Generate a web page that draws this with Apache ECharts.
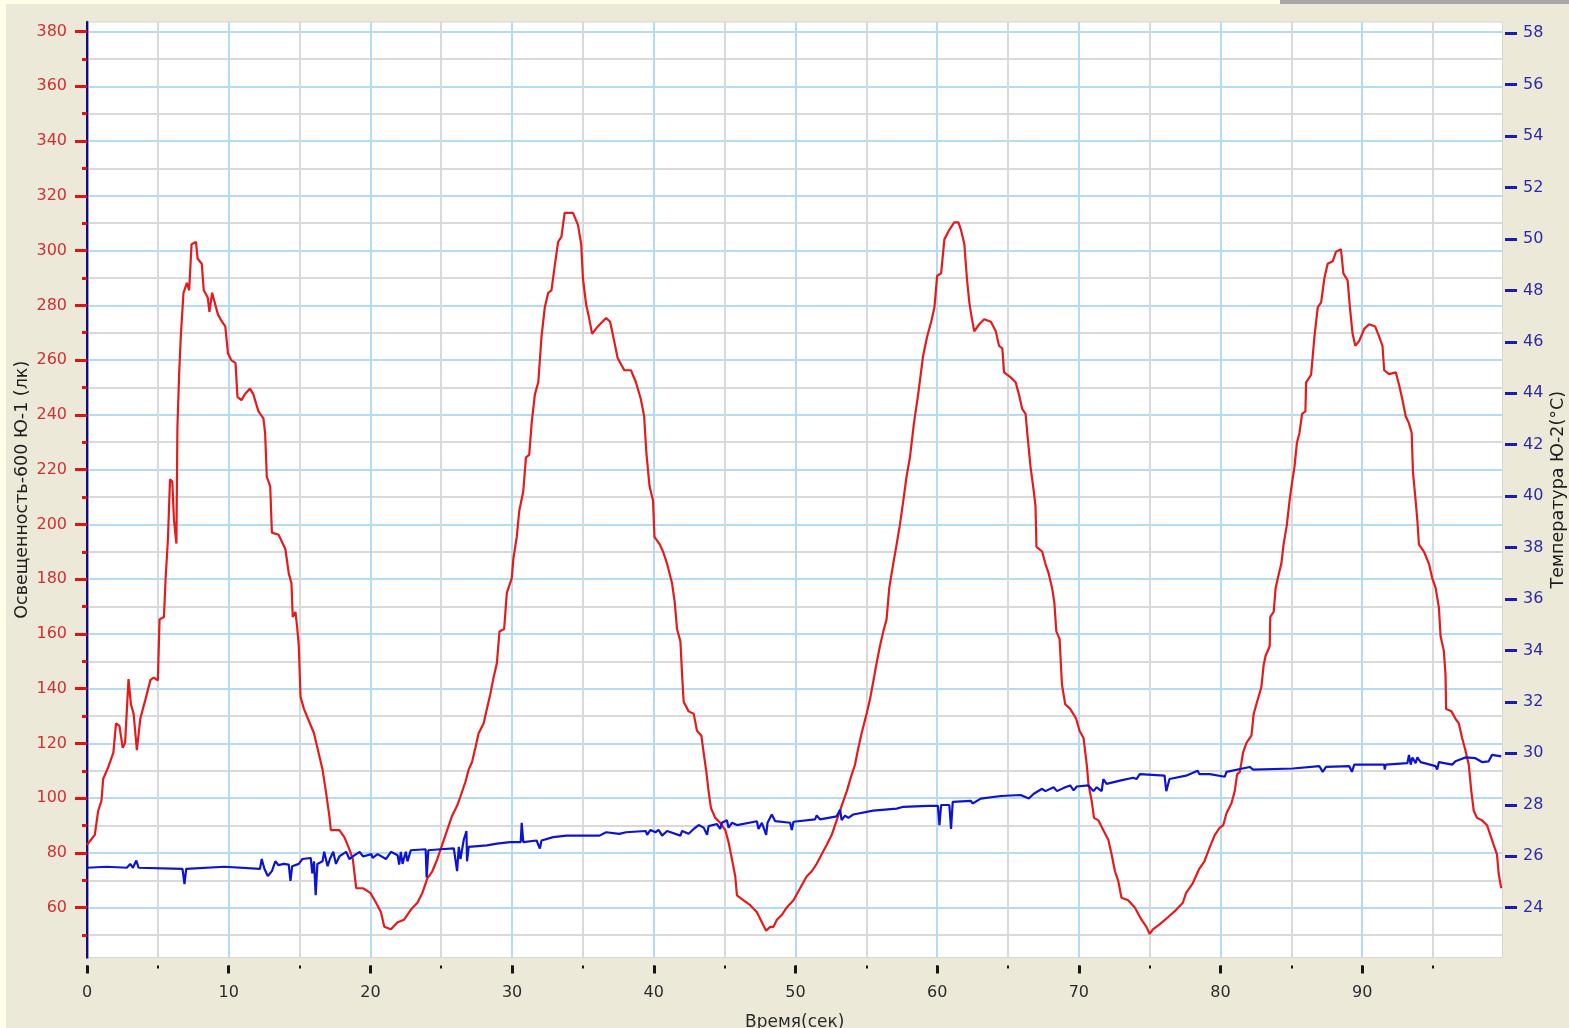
<!DOCTYPE html>
<html>
<head>
<meta charset="utf-8">
<title>Освещенность и температура</title>
<script src="https://cdn.jsdelivr.net/npm/echarts@6/dist/echarts.min.js"></script>
<style>
  html, body { margin: 0; padding: 0; width: 1569px; height: 1028px; overflow: hidden; background: #FFFFE8; }
  #frame { position: absolute; left: 6px; top: 4px; width: 1563px; height: 1024px; background: #ECE9D8; }
  #strip { position: absolute; left: 1280px; top: 0; width: 289px; height: 4px; background: #A8A8A8; }
  #chart { position: absolute; left: 0; top: 0; width: 1569px; height: 1028px; }
</style>
</head>
<body>
<div id="frame"></div>
<div id="strip"></div>
<div id="chart"></div>
<script>
// Tick values of the three axes
const xMajorTicks = [0, 10, 20, 30, 40, 50, 60, 70, 80, 90];
const xMinorTicks = [5, 15, 25, 35, 45, 55, 65, 75, 85, 95];
const luxMajorTicks = [60, 80, 100, 120, 140, 160, 180, 200, 220, 240, 260, 280, 300, 320, 340, 360, 380];
const luxMinorTicks = [50, 70, 90, 110, 130, 150, 170, 190, 210, 230, 250, 270, 290, 310, 330, 350, 370];
const tempTicks = [24, 26, 28, 30, 32, 34, 36, 38, 40, 42, 44, 46, 48, 50, 52, 54, 56, 58];

// Illuminance, lux: [time s, value]
const illuminanceSamples = [
  [0, 83], [0.55, 86.6], [0.79, 95.4], [1.02, 99], [1.14, 107], [1.5, 111.3], [1.86, 116.6], [2.05, 127.3],
  [2.29, 126.4], [2.52, 118.4], [2.69, 120.2], [2.93, 143.5], [3.1, 134.3], [3.29, 130.8], [3.52, 117.5],
  [3.76, 129], [4.12, 136], [4.48, 143.2], [4.71, 144], [5.0, 143], [5.12, 165.3], [5.43, 166.2],
  [5.55, 180.4], [5.71, 194.4], [5.86, 216.5], [6.02, 215.6], [6.14, 201.5], [6.31, 193], [6.38, 235.1],
  [6.5, 254.6], [6.62, 268.7], [6.81, 284.6], [7.05, 288.2], [7.21, 285.5], [7.38, 302.3], [7.69, 303.2],
  [7.81, 297], [8.1, 295.2], [8.24, 285.5], [8.52, 282.9], [8.64, 277.6], [8.83, 284.6], [9.24, 276.7],
  [9.48, 274.4], [9.76, 272.3], [9.95, 262.5], [10.19, 259.9], [10.48, 259], [10.62, 246.6], [10.9, 245.4],
  [11.14, 247.5], [11.5, 249.6], [11.74, 247.5], [12.1, 241.3], [12.45, 238.7], [12.57, 233.4], [12.69, 217.4],
  [12.93, 213.9], [13.05, 197], [13.52, 196.2], [14.0, 191], [14.24, 182.1], [14.43, 178.5], [14.52, 166.2],
  [14.71, 168], [14.83, 162.6], [14.95, 155.5], [15.07, 137], [15.31, 132.6], [15.67, 128.1], [16.02, 123.7],
  [16.26, 118.4], [16.62, 110.5], [16.86, 102.5], [17.1, 93.6], [17.21, 88.3], [17.81, 88.3], [18.17, 85.7],
  [18.52, 81.3], [18.76, 77.7], [19.0, 67.1], [19.48, 67.1], [20.0, 65.4], [20.4, 61.8], [20.75, 58.3],
  [20.98, 53], [21.45, 52.1], [21.92, 54.7], [22.38, 55.6], [22.85, 59.2], [23.32, 61.8], [23.67, 65.4],
  [24.02, 70.7], [24.37, 73.3], [24.72, 77.7], [25.07, 83], [25.42, 88.3], [25.77, 93.6], [26.12, 97.2],
  [26.36, 100.7], [26.71, 106], [26.94, 110.5], [27.17, 113.1], [27.41, 118.4], [27.64, 123.7], [27.99, 127.3],
  [28.22, 132.6], [28.46, 137.9], [28.69, 144], [28.93, 149.4], [29.11, 160.9], [29.44, 161.8], [29.63, 175],
  [29.98, 180.4], [30.09, 187.4], [30.33, 195.4], [30.51, 205.1], [30.79, 212.1], [30.98, 224.5], [31.21, 225.4],
  [31.38, 236.9], [31.61, 247.5], [31.85, 251.9], [32.08, 268.7], [32.31, 279.3], [32.55, 284.6], [32.78, 285.5],
  [33.01, 294.4], [33.25, 303.2], [33.48, 305], [33.71, 313.8], [34.3, 313.8], [34.65, 309.4], [34.88, 302.3],
  [35.0, 289.9], [35.23, 280.2], [35.42, 275.8], [35.65, 269.6], [36.05, 272.3], [36.64, 275.4], [36.92, 274],
  [37.1, 269.6], [37.45, 260.8], [37.92, 256.3], [38.39, 256.3], [38.74, 251.9], [39.09, 245.7], [39.32, 239.5],
  [39.48, 226], [39.7, 214], [39.95, 208.6], [40.05, 195.4], [40.42, 192.7], [40.66, 190], [40.94, 185.6],
  [41.29, 178.5], [41.48, 171.5], [41.64, 161.8], [41.88, 157.3], [42.0, 144.9], [42.11, 135.2], [42.46, 131.7],
  [42.82, 130.8], [43.05, 124.6], [43.36, 122.8], [43.52, 116.6], [43.71, 109.6], [43.87, 102.5], [44.04, 96.3],
  [44.34, 92.8], [44.69, 91], [45.05, 88.3], [45.28, 83.9], [45.52, 77.7], [45.75, 71.5], [45.87, 64.5],
  [46.34, 62.7], [46.81, 60.9], [47.28, 58.3], [47.63, 54.7], [47.93, 51.6], [48.22, 53], [48.45, 53],
  [48.69, 55.6], [49.04, 57.4], [49.39, 60.1], [49.86, 62.7], [50.33, 67.1], [50.8, 71.5], [51.15, 73.3],
  [51.5, 76], [51.85, 79.5], [52.21, 83], [52.56, 86.6], [52.91, 91.9], [53.26, 97.2], [53.62, 102.5],
  [53.92, 107.8], [54.2, 112.2], [54.44, 118.4], [54.67, 123.7], [55.02, 130.8], [55.26, 136.1], [55.45, 141.4],
  [55.73, 149.4], [55.96, 155.5], [56.2, 160.9], [56.43, 165.3], [56.62, 176.8], [56.9, 185.6], [57.14, 192.7],
  [57.37, 199.8], [57.61, 208.6], [57.84, 217.4], [58.08, 224.5], [58.36, 236.9], [58.66, 247.5], [59.01, 261.6],
  [59.3, 268.7], [59.58, 274], [59.81, 279.3], [60.0, 290.8], [60.28, 291.7], [60.51, 304.1], [60.86, 307.6],
  [61.21, 310.3], [61.5, 310.3], [61.68, 307.6], [61.92, 302.3], [62.1, 289.9], [62.27, 281.1], [62.43, 275.8],
  [62.62, 270.5], [62.97, 273.1], [63.32, 274.9], [63.79, 274], [64.14, 270.5], [64.37, 265.2], [64.6, 264.3],
  [64.72, 255.5], [65.19, 253.7], [65.54, 251.9], [65.77, 247.5], [66.0, 242.2], [66.24, 240.4], [66.36, 233.4],
  [66.59, 221], [66.82, 212.1], [66.94, 206.8], [67.01, 191.8], [67.41, 190.1], [67.64, 185.6], [67.87, 182.1],
  [68.11, 176.8], [68.27, 171.5], [68.41, 160.9], [68.64, 158.2], [68.81, 141.4], [69.04, 134.3], [69.39, 132.6],
  [69.81, 129], [70.05, 124.6], [70.33, 122], [70.56, 112.2], [70.68, 105.1], [70.91, 98.9], [71.07, 92.8],
  [71.38, 91.9], [71.73, 88.3], [72.08, 84.8], [72.31, 79.5], [72.55, 73.3], [72.78, 69.8], [73.01, 63.6],
  [73.48, 62.7], [73.95, 60.1], [74.42, 55.6], [74.77, 53], [75.0, 50.4], [75.23, 52.1], [75.7, 53.9],
  [76.29, 56.5], [76.87, 59.2], [77.34, 61.8], [77.57, 65.4], [78.04, 68.9], [78.5, 74.2], [78.86, 76.9],
  [79.25, 82.2], [79.6, 86.6], [79.95, 89.2], [80.19, 90.1], [80.42, 94.5], [80.77, 98.1], [81.0, 102.5],
  [81.17, 108.7], [81.36, 109.6], [81.59, 116.6], [81.83, 120.2], [82.18, 122.8], [82.34, 130.8], [82.58, 135.2],
  [82.88, 140.5], [83.04, 148.5], [83.18, 152], [83.47, 155.5], [83.51, 166.2], [83.75, 168], [83.89, 176.8],
  [84.12, 182.1], [84.29, 185.6], [84.45, 192.7], [84.68, 199.8], [84.87, 208.6], [85.06, 215.7], [85.22, 221],
  [85.39, 229.8], [85.57, 233.4], [85.76, 240.4], [85.99, 241.3], [86.04, 251.9], [86.39, 254.6], [86.63, 268.7],
  [86.86, 279.3], [87.1, 281.1], [87.33, 289.9], [87.56, 295.2], [87.92, 296.1], [88.15, 299.6], [88.5, 300.5],
  [88.67, 291.7], [88.97, 289.1], [89.13, 279.3], [89.32, 269.6], [89.51, 265.2], [89.79, 267], [90.14, 271.4],
  [90.49, 273.1], [90.91, 272.3], [91.19, 268.7], [91.43, 265.2], [91.55, 256.3], [91.9, 254.9], [92.37, 255.5],
  [92.6, 251], [92.83, 245.7], [93.07, 239.5], [93.3, 236.9], [93.49, 233.4], [93.58, 219.2], [93.77, 208.6],
  [93.89, 201.5], [94.0, 192.7], [94.36, 190], [94.71, 185.6], [94.94, 180.4], [95.18, 176.8], [95.41, 169.7],
  [95.53, 159.1], [95.76, 153.8], [95.88, 144.9], [95.92, 132.6], [96.3, 131.7], [96.58, 129], [96.82, 127.3],
  [97.05, 122], [97.28, 117.5], [97.52, 112.2], [97.7, 102.5], [97.87, 95.4], [98.1, 92.8], [98.45, 91.9],
  [98.81, 90.1], [99.04, 86.6], [99.27, 83], [99.51, 79.5], [99.63, 72.4], [99.81, 67.1]
];

// Temperature, °C: [time s, value]
const temperatureSamples = [
  [0, 25.55], [1.38, 25.59], [1.5, 25.55], [2.81, 25.55], [3.05, 25.7], [3.24, 25.55], [3.48, 25.83], [3.64, 25.55],
  [6.74, 25.51], [6.88, 24.91], [7.0, 25.51], [9.71, 25.59], [9.8, 25.53], [12.21, 25.51], [12.33, 25.89],
  [12.52, 25.51], [12.76, 25.23], [13.05, 25.42], [13.29, 25.8], [13.52, 25.65], [13.88, 25.7], [14.24, 25.67],
  [14.36, 25.04], [14.48, 25.61], [14.95, 25.7], [15.19, 25.89], [15.79, 25.93], [15.9, 25.33], [16.02, 25.8],
  [16.14, 24.48], [16.26, 25.7], [16.62, 25.8], [16.74, 26.17], [16.98, 25.61], [17.14, 25.89], [17.38, 26.17],
  [17.57, 25.7], [17.81, 25.99], [18.29, 26.17], [18.52, 25.89], [18.76, 25.99], [19.24, 26.17], [19.48, 25.99],
  [20.07, 26.08], [20.16, 25.93], [20.51, 26.08], [21.1, 25.89], [21.45, 26.17], [21.92, 26.04], [22.03, 25.67],
  [22.15, 26.17], [22.27, 25.7], [22.5, 26.17], [22.62, 25.8], [22.85, 26.23], [23.9, 26.27], [23.97, 25.17],
  [24.09, 26.23], [24.95, 26.27], [25.89, 26.3], [26.12, 25.42], [26.24, 26.36], [26.36, 25.89], [26.59, 26.64],
  [26.78, 26.98], [26.82, 25.8], [26.94, 26.36], [28.22, 26.42], [28.93, 26.49], [29.86, 26.55], [30.61, 26.55],
  [30.68, 27.3], [30.79, 26.55], [31.73, 26.61], [31.96, 26.3], [32.08, 26.61], [32.9, 26.74], [33.83, 26.8],
  [36.17, 26.8], [36.64, 26.93], [37.57, 26.87], [38.04, 26.93], [39.44, 26.98], [39.53, 26.83], [39.77, 27.02],
  [40.12, 26.93], [40.35, 27.02], [40.59, 26.8], [40.94, 26.98], [41.88, 26.8], [42.0, 26.98], [42.46, 26.87],
  [42.82, 27.06], [43.17, 27.21], [43.52, 27.11], [43.76, 26.83], [43.87, 27.17], [44.46, 27.25], [44.69, 27.06],
  [44.81, 27.3], [45.16, 27.4], [45.28, 27.11], [45.52, 27.3], [45.87, 27.21], [47.28, 27.36], [47.39, 27.06],
  [47.63, 27.3], [47.93, 26.83], [48.03, 27.3], [48.33, 27.62], [48.57, 27.36], [49.62, 27.3], [49.74, 27.02],
  [49.86, 27.34], [51.38, 27.43], [51.5, 27.58], [51.74, 27.43], [52.91, 27.55], [53.15, 27.81], [53.26, 27.4],
  [53.5, 27.58], [53.73, 27.49], [54.08, 27.62], [55.49, 27.77], [57.14, 27.85], [57.61, 27.92], [59.37, 27.96],
  [60.05, 27.96], [60.16, 27.21], [60.28, 27.99], [60.86, 27.99], [60.98, 27.06], [61.1, 28.11], [62.38, 28.15],
  [62.5, 28.05], [63.08, 28.24], [64.49, 28.34], [65.89, 28.38], [66.47, 28.24], [66.82, 28.43], [67.41, 28.62],
  [67.64, 28.53], [68.22, 28.68], [68.46, 28.53], [69.04, 28.68], [69.39, 28.75], [69.63, 28.56], [69.86, 28.71],
  [70.68, 28.75], [71.03, 28.53], [71.26, 28.68], [71.61, 28.53], [71.73, 29.0], [71.96, 28.81], [72.9, 28.94],
  [73.83, 29.05], [74.07, 29.0], [74.3, 29.19], [76.05, 29.13], [76.17, 28.53], [76.4, 29.0], [77.57, 29.13],
  [78.39, 29.32], [78.5, 29.19], [79.25, 29.19], [80.3, 29.09], [80.42, 29.28], [82.06, 29.47], [82.3, 29.37],
  [85.11, 29.41], [86.98, 29.5], [87.21, 29.28], [87.45, 29.47], [89.09, 29.5], [89.27, 29.28], [89.44, 29.56],
  [91.55, 29.56], [91.59, 29.37], [91.66, 29.56], [93.19, 29.62], [93.3, 29.94], [93.42, 29.56], [93.54, 29.84],
  [93.77, 29.62], [93.89, 29.84], [94.12, 29.66], [95.18, 29.5], [95.29, 29.37], [95.41, 29.66], [96.35, 29.56],
  [96.58, 29.69], [97.28, 29.84], [97.99, 29.81], [98.45, 29.66], [98.92, 29.69], [99.16, 29.94], [99.81, 29.88]
];

const FONT = 'DejaVu Sans';
const byValue = (a, b) => a - b;
const xGridValues = xMajorTicks.concat(xMinorTicks).sort(byValue);
const luxGridValues = luxMajorTicks.concat(luxMinorTicks).sort(byValue);

const TIME_MIN = 0, TIME_MAX = 99.9;
const LUX_MIN = 41.8, LUX_MAX = 383.5;
const TEMP_MIN = 22.06, TEMP_MAX = 58.44;

const chart = echarts.init(document.getElementById('chart'), null, { renderer: 'canvas' });

chart.setOption({
  animation: false,
  backgroundColor: 'transparent',
  grid: {
    left: 87, right: 66.5, top: 22, bottom: 70.5,
    show: true, backgroundColor: '#FFFFFF', borderColor: '#D6D6D6', borderWidth: 1,
    containLabel: false, outerBoundsMode: 'none'
  },
  xAxis: [
    {
      // grid lines every 5 s and the short half-step ticks
      type: 'value', min: TIME_MIN, max: TIME_MAX, position: 'bottom', offset: 8,
      axisLine: { show: false },
      axisTick: { show: true, customValues: xGridValues, length: 3, lineStyle: { color: '#161616', width: 2 } },
      axisLabel: { show: true, customValues: xMajorTicks, margin: 19, color: '#2B2B2B', fontFamily: FONT, fontSize: 16 },
      splitLine: { show: true, lineStyle: { color: ['#B3DCF3', '#D9D9D9'], width: 2 } }
    },
    {
      // long ticks every 10 s and the axis title
      type: 'value', min: TIME_MIN, max: TIME_MAX, position: 'bottom', offset: 8,
      axisLine: { show: false },
      axisTick: { show: true, customValues: xMajorTicks, length: 8, lineStyle: { color: '#161616', width: 3 } },
      axisLabel: { show: false },
      splitLine: { show: false },
      name: 'Время(сек)', nameLocation: 'middle', nameGap: 49, nameMoveOverlap: false,
      nameTextStyle: { color: '#2B2B2B', fontFamily: FONT, fontSize: 17 }
    }
  ],
  yAxis: [
    {
      // illuminance: labels, long ticks, axis title
      type: 'value', min: LUX_MIN, max: LUX_MAX, position: 'left', offset: 4,
      axisLine: { show: true, lineStyle: { color: '#A2A2A2', width: 3 } },
      axisTick: { show: true, customValues: luxMajorTicks, length: 12, lineStyle: { color: '#E01414', width: 3 } },
      axisLabel: { show: true, customValues: luxMajorTicks, margin: 16, color: '#D03030', fontFamily: FONT, fontSize: 16 },
      splitLine: { show: false },
      name: 'Освещенность-600 Ю-1 (лк)', nameLocation: 'middle', nameRotate: 90, nameGap: 52, nameMoveOverlap: false,
      nameTextStyle: { color: '#1E1E1E', fontFamily: FONT, fontSize: 17.5 }
    },
    {
      // illuminance: short ticks between labels
      type: 'value', min: LUX_MIN, max: LUX_MAX, position: 'left', offset: 4,
      axisLine: { show: false },
      axisTick: { show: true, customValues: luxMinorTicks, length: 5, lineStyle: { color: '#E01414', width: 3 } },
      axisLabel: { show: false },
      splitLine: { show: false }
    },
    {
      // horizontal grid and the dark plot edge
      type: 'value', min: LUX_MIN, max: LUX_MAX, position: 'left', offset: 0,
      axisLine: { show: true, lineStyle: { color: '#0A0A96', width: 2 } },
      axisTick: { show: false, customValues: luxGridValues },
      axisLabel: { show: false },
      splitLine: { show: true, lineStyle: { color: ['#D9D9D9', '#B3DCF3'], width: 2 } }
    },
    {
      // temperature scale on the right
      type: 'value', min: TEMP_MIN, max: TEMP_MAX, position: 'right', offset: 2.5,
      axisLine: { show: false },
      axisTick: { show: true, customValues: tempTicks, length: 12, lineStyle: { color: '#1A1AB4', width: 3 } },
      axisLabel: { show: true, customValues: tempTicks, margin: 18, color: '#2A2AA8', fontFamily: FONT, fontSize: 16 },
      splitLine: { show: false },
      name: 'Температура Ю-2(°C)', nameLocation: 'middle', nameRotate: 90, nameGap: 44, nameMoveOverlap: false,
      nameTextStyle: { color: '#1E1E1E', fontFamily: FONT, fontSize: 17.5 }
    }
  ],
  series: [
    {
      name: 'Освещенность', type: 'line', xAxisIndex: 0, yAxisIndex: 0,
      data: illuminanceSamples, showSymbol: false, symbol: 'none', silent: true, z: 3,
      lineStyle: { color: '#E51A1A', width: 2.2 }
    },
    {
      name: 'Температура', type: 'line', xAxisIndex: 0, yAxisIndex: 3,
      data: temperatureSamples, showSymbol: false, symbol: 'none', silent: true, z: 4,
      lineStyle: { color: '#0C14D2', width: 2.2 }
    }
  ]
});
</script>
</body>
</html>
